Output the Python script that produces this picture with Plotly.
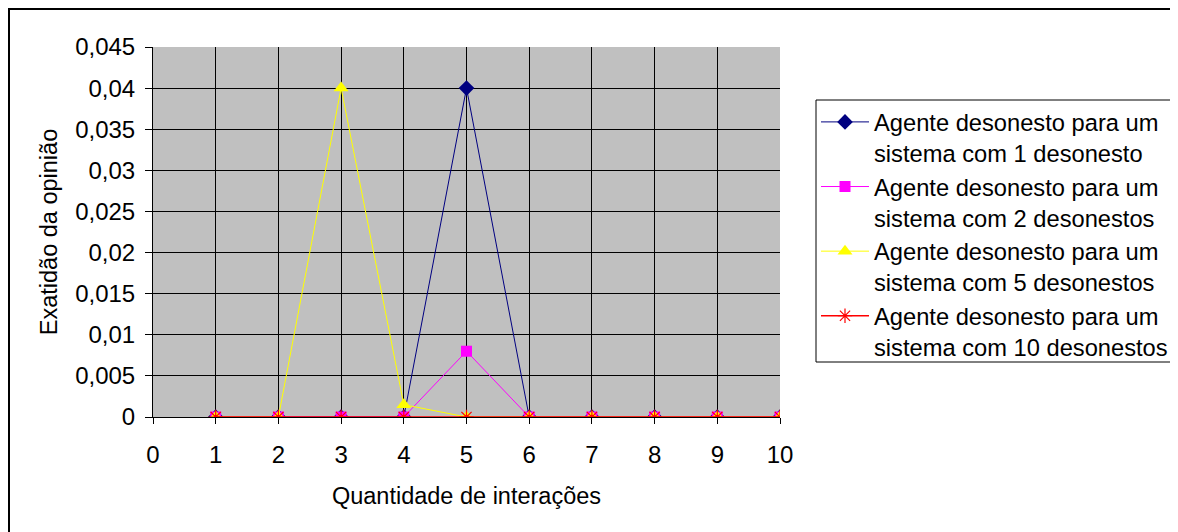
import plotly.graph_objects as go

iteracoes = [1, 2, 3, 4, 5, 6, 7, 8, 9, 10]
serie_1 = [0, 0, 0, 0, 0.04, 0, 0, 0, 0, 0]
serie_2 = [0, 0, 0, 0, 0.008, 0, 0, 0, 0, 0]
serie_5 = [0, 0, 0.04, 0.0015, 0, 0, 0, 0, 0, 0]
serie_10 = [0, 0, 0, 0, 0, 0, 0, 0, 0, 0]

nomes = [
    "Agente desonesto para um<br>sistema com 1 desonesto",
    "Agente desonesto para um<br>sistema com 2 desonestos",
    "Agente desonesto para um<br>sistema com 5 desonestos",
    "Agente desonesto para um<br>sistema com 10 desonestos",
]

y_ticks = [0, 0.005, 0.01, 0.015, 0.02, 0.025, 0.03, 0.035, 0.04, 0.045]
y_labels = ["0", "0,005", "0,01", "0,015", "0,02", "0,025", "0,03", "0,035", "0,04", "0,045"]
x_ticks = [0, 1, 2, 3, 4, 5, 6, 7, 8, 9, 10]

FONT = "Liberation Sans, Arial, sans-serif"

fig = go.Figure()
fig.add_trace(go.Scatter(x=iteracoes, y=serie_1, name=nomes[0], mode="lines+markers",
                         line=dict(color="#000080", width=1),
                         marker=dict(symbol="diamond", size=12, color="#000080")))
fig.add_trace(go.Scatter(x=iteracoes, y=serie_2, name=nomes[1], mode="lines+markers",
                         line=dict(color="#FF00FF", width=1),
                         marker=dict(symbol="square", size=11, color="#FF00FF")))
fig.add_trace(go.Scatter(x=iteracoes, y=serie_5, name=nomes[2], mode="lines+markers",
                         line=dict(color="#FFFF00", width=1),
                         marker=dict(symbol="triangle-up", size=13, color="#FFFF00")))
fig.add_trace(go.Scatter(x=iteracoes, y=serie_10, name=nomes[3], mode="lines+markers",
                         line=dict(color="#FF0000", width=1.5),
                         marker=dict(symbol="asterisk-open", size=12,
                                     line=dict(color="#FF0000", width=1.2))))

# page body adds an 8px offset; compensate
OFF = 8
W, H = 1178 - OFF, 532 - OFF
L, R, T, B = 153 - OFF, 780 - OFF, 47 - OFF, 417 - OFF
pw, ph = R - L, B - T

def px(xp):
    return (xp - OFF - L) / pw

def py(yp):
    return (B - (yp - OFF)) / ph

fig.update_layout(
    width=W, height=H,
    margin=dict(l=L, r=W - R, t=T, b=H - B, pad=0, autoexpand=False),
    paper_bgcolor="white",
    plot_bgcolor="#C0C0C0",
    font=dict(family=FONT, size=24, color="black"),
    showlegend=True,
    legend=dict(
        x=px(816), y=py(100), xanchor="left", yanchor="top",
        borderwidth=0, bgcolor="rgba(0,0,0,0)",
        font=dict(family=FONT, size=23.7, color="black"),
        valign="top", tracegroupgap=0,
        itemwidth=48,
    ),
    xaxis=dict(
        range=[0, 10], tickvals=x_ticks, ticktext=[str(v) for v in x_ticks],
        showgrid=True, gridcolor="black", gridwidth=1,
        showline=True, linecolor="black", linewidth=1,
        ticks="outside", ticklen=6, tickcolor="black",
        ticklabelstandoff=10, zeroline=False,
        title=dict(text="Quantidade de interações", standoff=20,
                   font=dict(family=FONT, size=23.5)),
    ),
    yaxis=dict(
        range=[0, 0.045], tickvals=y_ticks, ticktext=y_labels,
        showgrid=True, gridcolor="black", gridwidth=1,
        showline=True, linecolor="black", linewidth=1,
        ticks="outside", ticklen=7, tickcolor="black",
        ticklabelstandoff=5, zeroline=False,
        title=dict(text="Exatidão da opinião", standoff=10,
                   font=dict(family=FONT, size=23.5)),
    ),
    shapes=[
        dict(type="rect", xref="paper", yref="paper",
             x0=px(9), y0=py(800), x1=px(1400), y1=py(9),
             line=dict(color="black", width=2), layer="below"),
        dict(type="rect", xref="paper", yref="paper",
             x0=px(816), y0=py(362), x1=px(1400), y1=py(100),
             line=dict(color="black", width=1), fillcolor="white", layer="below"),
    ],
)

fig.write_html("out.html")
